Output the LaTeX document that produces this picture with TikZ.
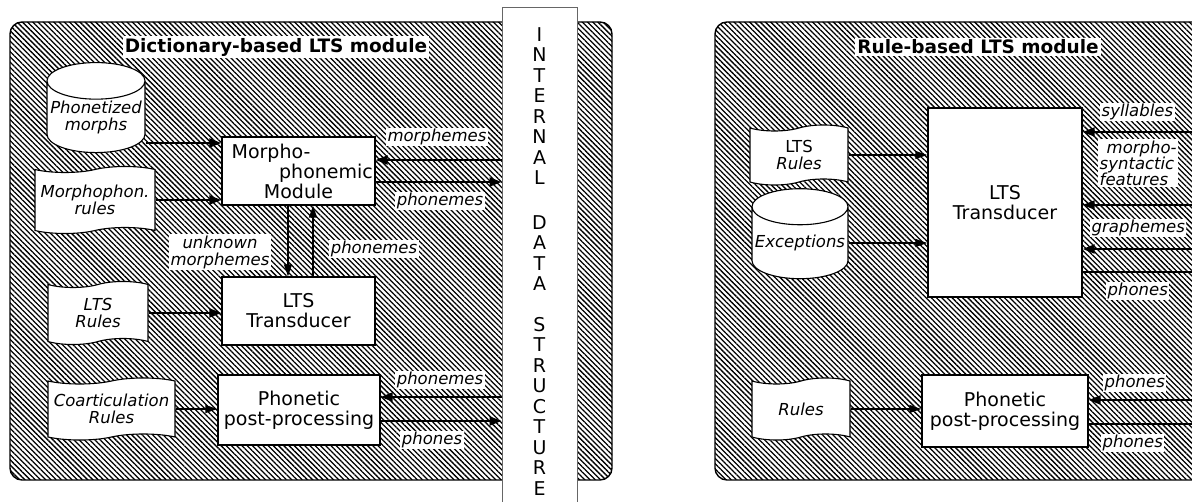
\documentclass[tikz,border=0pt]{standalone}
\usepackage{fontspec}
\setmainfont{DejaVu Sans}
\usetikzlibrary{patterns.meta,shapes.geometric,shapes.symbols,arrows.meta,calc}
\newcommand{\boxfnt}{\fontsize{19}{20}\selectfont}
\newcommand{\lblfnt}{\fontsize{16.5}{17}\selectfont\itshape}
\newcommand{\ttlfnt}{\fontsize{18.5}{20}\selectfont\bfseries}
\newcommand{\dsfnt}{\fontsize{19}{20.5}\selectfont}
\begin{document}
\begin{tikzpicture}[x=1pt,y=-1pt,
  hatch/.style={pattern={Lines[angle=-45,distance=3.7pt,line width=1.3pt]}},
  panel/.style={draw,line width=1.4pt,rounded corners=12pt,hatch},
  box/.style={draw,fill=white,line width=1.4pt,align=center,font=\boxfnt,inner sep=0pt},
  tapebox/.style={tape,draw,fill=white,line width=1.1pt,align=center,font=\lblfnt,inner sep=0pt,tape bend height=6pt},
  cyl/.style={cylinder,shape border rotate=90,draw,fill=white,line width=1.1pt,align=center,font=\lblfnt,inner sep=0pt,aspect=0.4},
  lbl/.style={fill=white,font=\lblfnt,inner sep=1.5pt,align=center},
  ttl/.style={fill=white,font=\ttlfnt,inner sep=2pt},
  arr/.style={line width=2.2pt,-{Triangle[length=12pt,width=9pt]}},
  arrt/.style={line width=1.4pt,-{Triangle[length=12pt,width=8pt]}},
]
\useasboundingbox (0,0) rectangle (1192,502);
\clip (0,0) rectangle (1192,502);
\fill[white] (0,0) rectangle (1192,502);
% ---------- left panel
\path[panel] (10,22) rectangle (612,480);
\node[draw=black!60,fill=white,line width=1pt,minimum width=75pt,minimum height=510pt,inner sep=0pt] (ds) at (539.5,263) {};
\node[font=\dsfnt,align=center,inner sep=0pt] (ds1) at (539.5,106) {I\\N\\T\\E\\R\\N\\A\\L};
\node[font=\dsfnt,align=center,inner sep=0pt] (ds2) at (539.5,253) {D\\A\\T\\A};
\node[font=\dsfnt,align=center,inner sep=0pt] (ds3) at (539.5,406) {S\\T\\R\\U\\C\\T\\U\\R\\E};
\node[ttl] (t1) at (276,47) {Dictionary-based LTS module};
\node[cyl,minimum width=98pt,minimum height=90pt] (pm) at (96,117) {Phonetized\\morphs};
\node[tapebox,minimum width=120pt,minimum height=67pt] (mr) at (95,200) {Morphophon.\\rules};
\node[box,minimum width=153pt,minimum height=68pt] (mm) at (298.5,171) {Morpho-\hspace*{55pt}\\\hspace*{55pt}phonemic\\Module};
\node[box,minimum width=153pt,minimum height=68pt] (lt) at (298.5,311) {LTS\\Transducer};
\node[tapebox,minimum width=100pt,minimum height=63pt] (lr) at (98,313) {LTS\\Rules};
\node[tapebox,minimum width=127pt,minimum height=62pt] (cr) at (111.5,409) {Coarticulation\\Rules};
\node[box,minimum width=162pt,minimum height=70pt] (pp) at (299,410) {Phonetic\\post-processing};
\coordinate (mmA) at ([yshift=28pt]mm.west);
\draw[arr] (pm.east |- mmA) -- (mmA);
\draw[arr] (mr.east) -- (mr.east -| mm.west);
\coordinate (mmB) at ([yshift=11pt]mm.east);
\draw[arr] (mmB -| ds.west) -- (mmB);
\coordinate (mmC) at ([yshift=-11pt]mm.east);
\draw[arr] (mmC) -- (mmC -| ds.west);
\coordinate (v1) at ([xshift=-10.5pt]mm.south);
\draw[arrt] (v1) -- (v1 |- lt.north);
\coordinate (v2) at ([xshift=14.5pt]lt.north);
\draw[arrt] (v2) -- (v2 |- mm.south);
\draw[arr] (lr.east) -- (lr.east -| lt.west);
\draw[arrt] (cr.east) -- (cr.east -| pp.west);
\coordinate (ppA) at ([yshift=13pt]pp.east);
\draw[arr] (ppA -| ds.west) -- (ppA);
\coordinate (ppB) at ([yshift=-11pt]pp.east);
\draw[arr] (ppB) -- (ppB -| ds.west);
\node[lbl] (l1) at (437,137) {morphemes};
\node[lbl] (l2) at (440,201) {phonemes};
\node[lbl] (l3) at (220,252) {unknown\\morphemes};
\node[lbl] (l4) at (374,249) {phonemes};
\node[lbl] (l5) at (440,380) {phonemes};
\node[lbl] (l6) at (432,440) {phones};
% ---------- right panel
\path[panel] (715,22) rectangle (1240,480);
\node[ttl] (t2) at (978,47) {Rule-based LTS module};
\node[tapebox,minimum width=98pt,minimum height=60pt] (rl) at (799,155) {{\upshape LTS}\\Rules};
\node[cyl,minimum width=96pt,minimum height=90pt] (ex) at (800,243) {Exceptions};
\node[box,minimum width=154pt,minimum height=189pt] (rt) at (1005,202.5) {LTS\\Transducer};
\node[tapebox,minimum width=98pt,minimum height=62pt] (rr) at (801,409) {Rules};
\node[box,minimum width=166pt,minimum height=72pt] (rp) at (1005,411) {Phonetic\\post-processing};
\draw[arrt] (rl.east) -- (rl.east -| rt.west);
\draw[arrt] (ex.east) -- (ex.east -| rt.west);
\draw[arrt] (rr.east) -- (rr.east -| rp.west);
\coordinate (r1) at (1215,132);
\coordinate (r2) at (1215,205);
\coordinate (r3) at (1215,249);
\coordinate (r4) at (1215,272);
\coordinate (r5) at (1215,400);
\coordinate (r6) at (1215,424);
\draw[arr] (r1) -- (r1 -| rt.east);
\draw[arr] (r2) -- (r2 -| rt.east);
\draw[arr] (r3) -- (r3 -| rt.east);
\draw[arr] (r4 -| rt.east) -- (r4);
\draw[arr] (r5) -- (r5 -| rp.east);
\draw[arr] (r6 -| rp.east) -- (r6);
\node[lbl,anchor=west] (s1) at (1100,112) {syllables};
\node[lbl,anchor=north west,align=left,font=\fontsize{16.5}{16}\selectfont\itshape] (s2) at (1098,139) {\hspace*{7pt}morpho-\\syntactic\\features};
\node[lbl,anchor=west] (s3) at (1090,228) {graphemes};
\node[lbl,anchor=west] (s4) at (1106,291) {phones};
\node[lbl,anchor=west] (s5) at (1103,383) {phones};
\node[lbl,anchor=west] (s6) at (1101,443) {phones};
\end{tikzpicture}
\end{document}
